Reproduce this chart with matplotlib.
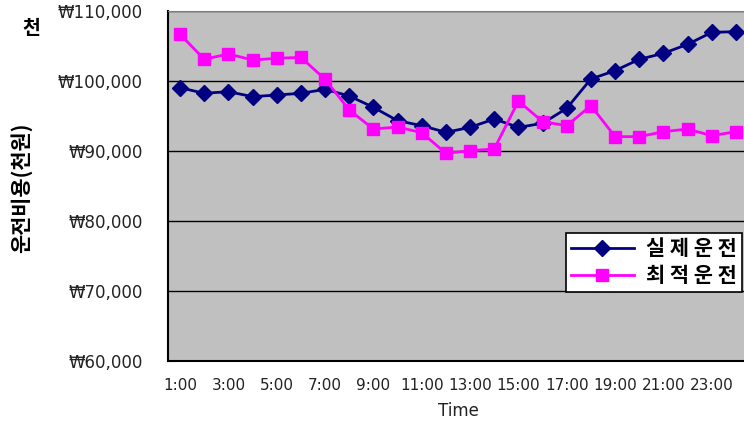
import matplotlib
matplotlib.use("Agg")
import matplotlib.pyplot as plt
import numpy as np

plt.rcParams['font.family'] = ['DejaVu Sans', 'Noto Sans CJK KR']

hours = [f"{h}:00" for h in range(1, 25)]
actual = [99040, 98240, 98480, 97760, 98000, 98240, 98810, 97860, 96240, 94330,
          93620, 92670, 93380, 94570, 93380, 93950, 96100, 100290, 101480, 103100,
          103950, 105240, 106950, 107050]
optimal = [106670, 103100, 103860, 103000, 103240, 103380, 100240, 95860, 93140, 93430,
           92620, 89670, 90050, 90290, 97140, 94190, 93620, 96480, 92050, 92050,
           92760, 93140, 92190, 92760]
yticks = [60000, 70000, 80000, 90000, 100000, 110000]
series_names = ["실 제 운 전", "최 적 운 전"]

fig = plt.figure(figsize=(7.44, 4.21), dpi=100)
ax = fig.add_axes([168/744, (421-361)/421, 580/744, 350/421])
ax.set_facecolor('#C0C0C0')

x = np.arange(len(hours))
ax.plot(x, actual, color='#000080', lw=2, marker='D', ms=8.5, label=series_names[0], zorder=3)
ax.plot(x, optimal, color='#FF00FF', lw=2, marker='s', ms=8.5, label=series_names[1], zorder=4)

ax.set_xlim(-0.5, len(hours) - 0.5)
ax.set_ylim(60000, 110000)
ax.set_yticks(yticks)
ax.set_yticklabels([f"₩{v:,}" for v in yticks], fontsize=12, color='#222222')
ax.set_xticks(x[::2])
ax.set_xticklabels(hours[::2], fontsize=11, color='#222222')
ax.tick_params(axis='y', length=0, pad=18)
ax.tick_params(axis='x', length=0, pad=12)
ax.yaxis.grid(True, color='#000000', lw=1)
ax.set_axisbelow(True)
for s in ['top', 'right']:
    ax.spines[s].set_color('#808080')
ax.spines['left'].set_color('black')
ax.spines['bottom'].set_color('black')
ax.spines['left'].set_linewidth(1.5)
ax.spines['bottom'].set_linewidth(1.5)

ax.set_xlabel("Time", fontsize=12, color='#222222', labelpad=7)
fig.text(21/744, 1 - 188/421, "운전비용(천원)", rotation=90, ha='center', va='center',
         fontsize=15, fontweight='bold', family=['Noto Sans CJK KR', 'DejaVu Sans'])
fig.text(31/744, 1 - 28/421, "천", ha='center', va='center', fontsize=14,
         fontweight='bold', family=['Noto Sans CJK KR', 'DejaVu Sans'])

leg = ax.legend(loc='upper left', bbox_to_anchor=((566-168)/580, (361-233)/350),
                prop={'family': ['Noto Sans CJK KR', 'DejaVu Sans'], 'size': 15, 'weight': 'bold'},
                frameon=True, fancybox=False, framealpha=1, edgecolor='black',
                handlelength=3.0, borderpad=0.25, labelspacing=0.3, handletextpad=0.6,
                borderaxespad=0)
leg.get_frame().set_linewidth(1.2)

fig.savefig("out.png", dpi=100)
